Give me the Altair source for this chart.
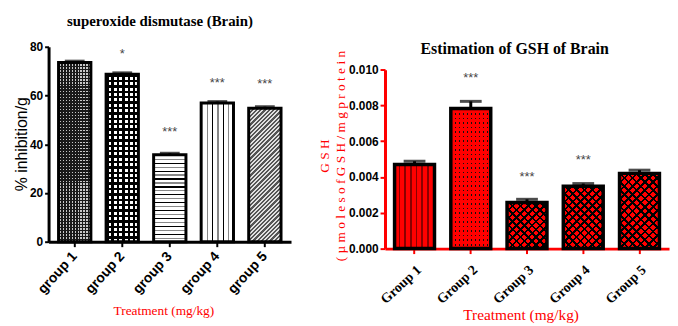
import math
import altair as alt
import pandas as pd

# ---------------- data ----------------
sod_groups = ["group 1", "group 2", "group 3", "group 4", "group 5"]
sod_values = [73.5, 68.7, 35.7, 56.9, 54.8]
sod_sem = [0.6, 0.6, 0.6, 0.6, 0.6]
sod_stars = ["", "*", "***", "***", "***"]
sod_star_y = [0.0, 77.0, 44.9, 65.2, 64.8]

gsh_groups = ["Group 1", "Group 2", "Group 3", "Group 4", "Group 5"]
gsh_values = [0.00470, 0.00783, 0.00257, 0.00348, 0.00420]
gsh_sem = [0.00018, 0.00040, 0.00018, 0.00015, 0.00018]
gsh_stars = ["", "***", "***", "***", ""]
gsh_star_y = [0.0, 0.00953, 0.00400, 0.00493, 0.0]

sod = pd.DataFrame({"group": sod_groups, "value": sod_values, "sem": sod_sem,
                    "star": sod_stars, "star_y": sod_star_y})
sod["hi"] = sod["value"] + sod["sem"]
gsh = pd.DataFrame({"group": gsh_groups, "value": gsh_values, "sem": gsh_sem,
                    "star": gsh_stars, "star_y": gsh_star_y})
gsh["hi"] = gsh["value"] + gsh["sem"]

RED = "#ff0000"
SERIF = "Liberation Serif"
SANS = "Liberation Sans"

# ---------------- pattern helpers (styling only) ----------------
def stripe_grad(n, segs, x1, y1, x2, y2):
    total = sum(f for _, f in segs)
    stops = []
    for i in range(n):
        acc = 0.0
        for col, f in segs:
            o0 = (i + acc / total) / n
            acc += f
            o1 = (i + acc / total) / n
            stops.append({"offset": round(o0, 5), "color": col})
            stops.append({"offset": round(o1, 5), "color": col})
    return {"gradient": "linear", "stops": stops, "x1": x1, "y1": y1, "x2": x2, "y2": y2}

def vstripes(w, period, segs):
    return stripe_grad(max(1, round(w / period)), segs, 0, 0, 1, 0)

def hstripes(h, period, segs):
    return stripe_grad(max(1, round(h / period)), segs, 0, 0, 0, 1)

def diag(w, h, period, segs, direction):
    s = (w + h) / (w * w + h * h)
    a, b = s * w, s * h
    n = max(1, round((w + h) / math.sqrt(2) / period))
    if direction == "/":
        return stripe_grad(n, segs, 0, 0, round(a, 5), round(b, 5))
    return stripe_grad(n, segs, 0, 1, round(a, 5), round(1 - b, 5))

# ---------------- left chart ----------------
L_W, L_H = 245, 197
lw = 32.6
lh = [v * L_H / 80 for v in sod_values]
T = "transparent"
left_patterns = [
    [hstripes(lh[0], 3, [("#1a1a1a", 0.5), ("#c8c8c8", 0.5)]),
     vstripes(lw, 3, [("#1a1a1a", 0.45), (T, 0.55)])],
    [hstripes(lh[1], 5.5, [("#000000", 0.45), ("#ffffff", 0.55)]),
     vstripes(lw, 5.5, [("#000000", 0.45), (T, 0.55)])],
    [hstripes(lh[2], 8, [("#000000", 1.2), ("#ffffff", 2.8), ("#888888", 1.2), ("#ffffff", 2.8)])],
    [vstripes(lw, 10, [("#000000", 1.2), ("#ffffff", 3.8), ("#888888", 1.2), ("#ffffff", 3.8)])],
    [diag(lw, lh[4], 3, [("#555555", 0.5), ("#e0e0e0", 0.5)], "/")],
]

xL = alt.X("group:N", sort=sod_groups,
           scale=alt.Scale(paddingInner=0.32, paddingOuter=0.21),
           axis=alt.Axis(title="Treatment (mg/kg)", labelAngle=-48,
                         labelFont=SANS, labelFontWeight="bold", labelFontSize=14,
                         labelColor="black", labelPadding=7,
                         domainColor="black", domainWidth=3, tickColor="black",
                         tickWidth=2, tickSize=5,
                         titleFont=SERIF, titleFontSize=13.5, titleFontWeight="normal",
                         titleColor=RED, titleX=116, titleY=70, titleBaseline="middle"))
yscaleL = alt.Scale(domain=[0, 80], nice=False)
yaxL = alt.Axis(title="% inhibition/g", values=[0, 20, 40, 60, 80],
                labelFont=SANS, labelFontWeight="bold", labelFontSize=12,
                labelColor="black", labelPadding=2,
                domainColor="black", domainWidth=3, tickColor="black", tickWidth=2,
                tickSize=4, titleFont=SANS, titleFontSize=16, titleFontWeight="normal",
                titleColor="black", titleAngle=270, titleX=-27.5, titleY=98,
                titleBaseline="middle")
yL = alt.Y("value:Q", scale=yscaleL, axis=yaxL)

baseL = alt.Chart(sod).encode(x=xL, y=yL)
layersL = []
for g, pats in zip(sod_groups, left_patterns):
    for p in pats:
        layersL.append(baseL.transform_filter(alt.datum.group == g)
                       .mark_bar(fill=p, strokeWidth=0))
outlineL = baseL.mark_bar(fillOpacity=0, stroke="black", strokeWidth=3)
errL = baseL.mark_rule(color="black", strokeWidth=3).encode(y2="hi:Q")
capL = baseL.mark_tick(color="black", thickness=3, size=20).encode(
    y=alt.Y("hi:Q", scale=yscaleL, axis=yaxL))
starsL = baseL.mark_text(font=SANS, fontSize=13, color="#444444", baseline="middle").encode(
    y=alt.Y("star_y:Q", scale=yscaleL, axis=yaxL), text="star:N")

left = alt.layer(*layersL, errL, capL, outlineL, starsL).properties(
    width=L_W, height=L_H,
    title=alt.TitleParams("superoxide dismutase (Brain)", font=SERIF, fontSize=15,
                          fontWeight="bold", color="black", anchor="middle",
                          baseline="alphabetic", offset=0, dx=-10, frame="group"))

# ---------------- right chart ----------------
R_W, R_H = 287, 204
rw = 40.35
rh = [v * 180.6 / 0.01 for v in gsh_values]
right_patterns = [
    [vstripes(rw, 6, [(RED, 0.72), ("#8a0000", 0.28)])],
    ["#111111",
     hstripes(rh[1], 4.5, [(T, 0.35), (RED, 0.65)]),
     vstripes(rw, 4, [(T, 0.35), (RED, 0.65)])],
]
for i in (2, 3, 4):
    right_patterns.append([
        RED,
        diag(rw, rh[i], 5.7, [("#000000", 0.32), (T, 0.68)], "/"),
        diag(rw, rh[i], 5.7, [("#000000", 0.32), (T, 0.68)], "\\"),
    ])

xR = alt.X("group:N", sort=gsh_groups,
           scale=alt.Scale(paddingInner=0.29, paddingOuter=0.17),
           axis=alt.Axis(title="Treatment (mg/kg)", labelAngle=-43,
                         labelFont=SERIF, labelFontWeight="bold", labelFontSize=14,
                         labelColor="black", labelPadding=9,
                         domainColor=RED, domainWidth=3, tickColor=RED,
                         tickWidth=2, tickSize=5,
                         titleFont=SERIF, titleFontSize=15.5, titleFontWeight="normal",
                         titleColor=RED, titleX=137, titleY=67, titleBaseline="middle"))
yscaleR = alt.Scale(domain=[0, 0.010], nice=False, range=[203.8, 23.2])
yaxR = alt.Axis(title=["G S H", "( µ m o l e s o f G S H / m g p r o t e i n"],
                values=[0, 0.002, 0.004, 0.006, 0.008, 0.010], format=".3f",
                labelFont=SANS, labelFontWeight="bold", labelFontSize=12,
                labelColor="black", labelPadding=2,
                domainColor=RED, domainWidth=3, tickColor=RED, tickWidth=2,
                tickSize=5, titleFont=SERIF, titleFontSize=13.5, titleFontWeight="normal",
                titleColor=RED, titleAngle=270, titleX=-61.5, titleY=110,
                titleBaseline="middle", titleLineHeight=17)
yR = alt.Y("value:Q", scale=yscaleR, axis=yaxR)

baseR = alt.Chart(gsh).encode(x=xR, y=yR)
layersR = []
for g, pats in zip(gsh_groups, right_patterns):
    for p in pats:
        layersR.append(baseR.transform_filter(alt.datum.group == g)
                       .mark_bar(fill=p, strokeWidth=0))
outlineR = baseR.mark_bar(fillOpacity=0, stroke="black", strokeWidth=3.5)
errR = baseR.mark_rule(color="black", strokeWidth=3).encode(y2="hi:Q")
capR = baseR.mark_tick(color="black", thickness=3, size=22).encode(
    y=alt.Y("hi:Q", scale=yscaleR, axis=yaxR))
starsR = baseR.mark_text(font=SANS, fontSize=13, color="#444444", baseline="middle").encode(
    y=alt.Y("star_y:Q", scale=yscaleR, axis=yaxR), text="star:N")

right = alt.layer(*layersR, errR, capR, outlineR, starsR).properties(
    width=R_W, height=R_H,
    title=alt.TitleParams("Estimation of GSH of Brain", font=SERIF, fontSize=16,
                          fontWeight="bold", color="black", anchor="middle",
                          baseline="alphabetic", offset=-23, dx=-12.5, frame="group"))

chart = alt.hconcat(left, right, spacing=24).properties(
    padding={"left": 5, "top": 3.5, "right": 0, "bottom": 0}
).configure_view(stroke="transparent").configure_axis(grid=False)

chart.save("out.html", embed_options={"renderer": "svg", "actions": False})
